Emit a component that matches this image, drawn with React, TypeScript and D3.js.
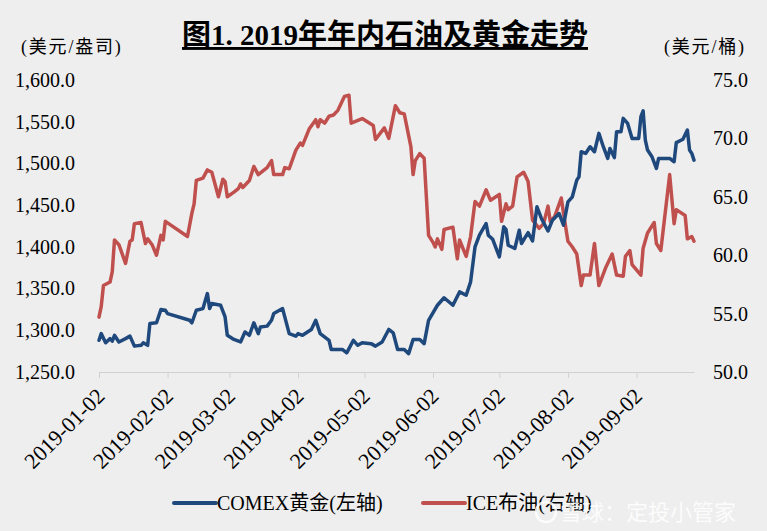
import React, { useRef, useEffect } from 'react';
import * as d3 from 'd3';

// COMEX gold, USD/oz (left axis)
const goldDates = [
  '2019-01-02', '2019-01-03', '2019-01-05', '2019-01-07', '2019-01-08', '2019-01-09', '2019-01-11', '2019-01-14',
  '2019-01-16', '2019-01-18', '2019-01-21', '2019-01-22', '2019-01-24', '2019-01-25', '2019-01-28', '2019-01-30',
  '2019-02-01', '2019-02-02', '2019-02-12', '2019-02-13', '2019-02-15', '2019-02-18', '2019-02-20', '2019-02-21',
  '2019-02-22', '2019-02-26', '2019-02-28', '2019-03-01', '2019-03-04', '2019-03-07', '2019-03-09', '2019-03-11',
  '2019-03-13', '2019-03-15', '2019-03-16', '2019-03-19', '2019-03-21', '2019-03-22', '2019-03-26', '2019-03-29',
  '2019-04-01', '2019-04-02', '2019-04-04', '2019-04-08', '2019-04-10', '2019-04-12', '2019-04-16', '2019-04-17',
  '2019-04-22', '2019-04-24', '2019-04-27', '2019-04-29', '2019-05-01', '2019-05-05', '2019-05-07', '2019-05-10',
  '2019-05-13', '2019-05-15', '2019-05-17', '2019-05-20', '2019-05-22', '2019-05-24', '2019-05-27', '2019-05-29',
  '2019-05-31', '2019-06-04', '2019-06-07', '2019-06-11', '2019-06-14', '2019-06-17', '2019-06-19', '2019-06-21',
  '2019-06-23', '2019-06-26', '2019-06-27', '2019-06-29', '2019-07-02', '2019-07-04', '2019-07-05', '2019-07-06',
  '2019-07-09', '2019-07-11', '2019-07-12', '2019-07-15', '2019-07-17', '2019-07-19', '2019-07-21', '2019-07-24',
  '2019-07-26', '2019-07-29', '2019-07-31', '2019-08-02', '2019-08-04', '2019-08-06', '2019-08-07', '2019-08-08',
  '2019-08-10', '2019-08-12', '2019-08-14', '2019-08-16', '2019-08-18', '2019-08-20', '2019-08-21', '2019-08-23',
  '2019-08-24', '2019-08-26', '2019-08-27', '2019-08-29', '2019-08-31', '2019-09-03', '2019-09-04', '2019-09-05',
  '2019-09-06', '2019-09-07', '2019-09-09', '2019-09-11', '2019-09-12', '2019-09-17', '2019-09-19', '2019-09-20',
  '2019-09-23', '2019-09-25', '2019-09-26', '2019-09-27', '2019-09-28',
];
const goldValues = [
  1288, 1296, 1285, 1290, 1287, 1294, 1286, 1290,
  1293, 1281, 1282, 1285, 1282, 1308, 1309, 1325,
  1324, 1320, 1312, 1309, 1324, 1326, 1344, 1326,
  1332, 1330, 1316, 1294, 1289, 1286, 1298, 1294,
  1309, 1296, 1304, 1305, 1312, 1320, 1326, 1296,
  1293, 1296, 1294, 1301, 1312, 1296, 1288, 1277,
  1277, 1273, 1288, 1282, 1285, 1284, 1281, 1286,
  1301, 1297, 1277, 1277, 1272, 1289, 1289, 1284,
  1312, 1330, 1339, 1330, 1346, 1342, 1358, 1400,
  1414, 1428, 1414, 1409, 1388, 1424, 1421, 1402,
  1398, 1420, 1404, 1417, 1407, 1448, 1434, 1419,
  1432, 1440, 1426, 1454, 1460, 1480, 1484, 1514,
  1512, 1520, 1514, 1536, 1520, 1506, 1518, 1507,
  1538, 1538, 1554, 1548, 1530, 1530, 1556, 1563,
  1528, 1516, 1508, 1494, 1506, 1506, 1502, 1525,
  1529, 1540, 1516, 1512, 1504,
];

// ICE Brent, USD/bbl (right axis)
const brentDates = [
  '2019-01-02', '2019-01-03', '2019-01-04', '2019-01-07', '2019-01-08', '2019-01-09', '2019-01-11', '2019-01-14',
  '2019-01-16', '2019-01-17', '2019-01-18', '2019-01-21', '2019-01-23', '2019-01-24', '2019-01-26', '2019-01-28',
  '2019-01-30', '2019-01-31', '2019-02-01', '2019-02-11', '2019-02-13', '2019-02-14', '2019-02-15', '2019-02-18',
  '2019-02-20', '2019-02-22', '2019-02-25', '2019-02-27', '2019-02-28', '2019-03-01', '2019-03-04', '2019-03-06',
  '2019-03-07', '2019-03-08', '2019-03-11', '2019-03-13', '2019-03-15', '2019-03-19', '2019-03-21', '2019-03-22',
  '2019-03-26', '2019-03-27', '2019-03-29', '2019-04-01', '2019-04-03', '2019-04-04', '2019-04-07', '2019-04-10',
  '2019-04-11', '2019-04-12', '2019-04-14', '2019-04-16', '2019-04-18', '2019-04-20', '2019-04-23', '2019-04-25',
  '2019-04-26', '2019-05-01', '2019-05-06', '2019-05-07', '2019-05-11', '2019-05-13', '2019-05-16', '2019-05-18',
  '2019-05-20', '2019-05-23', '2019-05-24', '2019-05-25', '2019-05-27', '2019-05-29', '2019-05-31', '2019-06-02',
  '2019-06-03', '2019-06-04', '2019-06-06', '2019-06-07', '2019-06-11', '2019-06-13', '2019-06-14', '2019-06-17',
  '2019-06-19', '2019-06-21', '2019-06-23', '2019-06-26', '2019-06-28', '2019-07-02', '2019-07-03', '2019-07-05',
  '2019-07-06', '2019-07-08', '2019-07-10', '2019-07-13', '2019-07-15', '2019-07-17', '2019-07-20', '2019-07-22',
  '2019-07-24', '2019-07-25', '2019-07-27', '2019-07-30', '2019-07-31', '2019-08-02', '2019-08-04', '2019-08-06',
  '2019-08-08', '2019-08-09', '2019-08-12', '2019-08-14', '2019-08-16', '2019-08-19', '2019-08-22', '2019-08-24',
  '2019-08-27', '2019-08-28', '2019-08-30', '2019-08-31', '2019-09-04', '2019-09-05', '2019-09-07', '2019-09-10',
  '2019-09-11', '2019-09-13', '2019-09-17', '2019-09-19', '2019-09-20', '2019-09-24', '2019-09-25', '2019-09-27',
  '2019-09-28',
];
const brentValues = [
  54.7, 55.6, 57.4, 57.7, 58.6, 61.3, 60.9, 59.3,
  61.2, 61.3, 62.7, 62.8, 61.0, 61.4, 60.9, 60.0,
  61.7, 61.3, 62.9, 61.6, 63.6, 64.4, 66.4, 66.6,
  67.3, 67.1, 65.0, 66.5, 66.3, 65.0, 65.4, 65.7,
  66.1, 65.8, 66.4, 67.6, 66.9, 67.5, 68.1, 66.9,
  66.9, 67.5, 67.4, 69.0, 69.6, 69.4, 70.8, 71.6,
  71.0, 71.6, 71.3, 71.9, 72.0, 72.4, 73.6, 73.7,
  71.3, 71.7, 71.1, 69.9, 70.9, 70.0, 72.8, 72.2,
  72.1, 69.3, 66.9, 68.1, 68.7, 68.3, 61.7, 61.1,
  60.7, 61.4, 60.5, 62.2, 62.4, 59.7, 61.3, 59.9,
  61.6, 64.6, 64.2, 65.6, 64.7, 65.2, 62.9, 64.4,
  63.9, 64.2, 66.7, 67.1, 66.3, 63.0, 62.3, 62.7,
  64.2, 62.9, 63.3, 64.9, 63.6, 61.2, 60.7, 60.1,
  57.4, 58.3, 58.3, 61.0, 57.4, 58.9, 60.1, 58.3,
  58.2, 59.9, 60.4, 59.2, 58.3, 60.6, 61.9, 62.8,
  61.0, 60.4, 66.9, 62.7, 63.9, 63.4, 61.4, 61.6,
  61.2,
];

const monthTicks = [
  '2019-01-02', '2019-02-02', '2019-03-02', '2019-04-02', '2019-05-02',
  '2019-06-02', '2019-07-02', '2019-08-02', '2019-09-02',
];
const leftTicks = [1250, 1300, 1350, 1400, 1450, 1500, 1550, 1600];
const rightTicks = [50, 55, 60, 65, 70, 75];

const title = '图1. 2019年年内石油及黄金走势';
const leftUnit = '(美元/盎司)';
const rightUnit = '(美元/桶)';
const goldName = 'COMEX黄金(左轴)';
const brentName = 'ICE布油(右轴)';
const watermark = '雪球：定投小管家';

const FONT = "'Liberation Serif', 'Times New Roman', 'Noto Sans CJK SC', serif";
const BLUE = '#1f497d';
const RED = '#c0504d';

const App = () => {
  const width = 767;
  const height = 531;
  const svgRef = useRef<SVGSVGElement>(null);

  useEffect(() => {
    const svg = d3.select(svgRef.current);
    svg.selectAll('*').remove();

    const left = 99, right = 694, top = 80, bottom = 372;
    const parse = d3.timeParse('%Y-%m-%d');

    svg.append('rect').attr('width', width).attr('height', height).attr('fill', '#eeeeee');

    const x = d3.scaleTime()
      .domain([parse(goldDates[0]) as Date, parse(goldDates[goldDates.length - 1]) as Date])
      .range([left, right]);
    const yL = d3.scaleLinear().domain([1250, 1600]).range([bottom, top]);
    const yR = d3.scaleLinear().domain([50, 75]).range([bottom, top]);

    // x axis, date labels turned 45 degrees
    const xAxis = svg.append('g')
      .attr('transform', `translate(0,${bottom})`)
      .call(d3.axisBottom(x)
        .tickValues(monthTicks.map(d => parse(d) as Date))
        .tickSizeInner(6)
        .tickSizeOuter(0)
        .tickFormat(d3.timeFormat('%Y-%m-%d') as any));
    xAxis.select('.domain').attr('stroke', '#d0d0d0');
    xAxis.selectAll('.tick line').attr('stroke', '#d0d0d0');
    xAxis.selectAll('.tick text')
      .attr('font-family', FONT)
      .attr('font-size', 22)
      .attr('fill', '#000')
      .attr('text-anchor', 'end')
      .attr('transform', 'translate(1,20) rotate(-45)')
      .attr('x', 0)
      .attr('y', 0)
      .attr('dy', '0.35em');

    // left axis
    const yAxisL = svg.append('g')
      .attr('transform', `translate(${left},0)`)
      .call(d3.axisLeft(yL).tickValues(leftTicks).tickSize(0).tickPadding(24).tickFormat(d3.format(',.1f') as any));
    yAxisL.select('.domain').remove();
    yAxisL.selectAll('.tick text').attr('font-family', FONT).attr('font-size', 20).attr('fill', '#000');

    // right axis
    const yAxisR = svg.append('g')
      .attr('transform', `translate(${right},0)`)
      .call(d3.axisRight(yR).tickValues(rightTicks).tickSize(0).tickPadding(19).tickFormat(d3.format('.1f') as any));
    yAxisR.select('.domain').remove();
    yAxisR.selectAll('.tick text').attr('font-family', FONT).attr('font-size', 20).attr('fill', '#000');

    // lines
    const brentLine = d3.line<number>()
      .x((_, i) => x(parse(brentDates[i]) as Date))
      .y(d => yR(d));
    const goldLine = d3.line<number>()
      .x((_, i) => x(parse(goldDates[i]) as Date))
      .y(d => yL(d));

    svg.append('path')
      .attr('d', brentLine(brentValues))
      .attr('fill', 'none')
      .attr('stroke', RED)
      .attr('stroke-width', 3.5)
      .attr('stroke-linejoin', 'round')
      .attr('stroke-linecap', 'round');

    svg.append('path')
      .attr('d', goldLine(goldValues))
      .attr('fill', 'none')
      .attr('stroke', BLUE)
      .attr('stroke-width', 3.5)
      .attr('stroke-linejoin', 'round')
      .attr('stroke-linecap', 'round');

    // title and units
    svg.append('text')
      .attr('x', 385).attr('y', 45)
      .attr('text-anchor', 'middle')
      .attr('font-family', FONT)
      .attr('font-weight', 'bold')
      .attr('font-size', 29)
      .attr('text-decoration', 'underline')
      .text(title);
    svg.append('text')
      .attr('x', 21).attr('y', 53)
      .attr('font-family', FONT).attr('font-size', 18)
      .attr('letter-spacing', 1.8)
      .text(leftUnit);
    svg.append('text')
      .attr('x', 664).attr('y', 53)
      .attr('font-family', FONT).attr('font-size', 18)
      .attr('letter-spacing', 1.8)
      .text(rightUnit);

    // legend
    const legend = [
      { name: goldName, color: BLUE, x: 174 },
      { name: brentName, color: RED, x: 423 },
    ];
    const lg = svg.append('g').attr('transform', 'translate(0,503)');
    legend.forEach(l => {
      lg.append('line')
        .attr('x1', l.x).attr('x2', l.x + 42)
        .attr('stroke', l.color).attr('stroke-width', 4).attr('stroke-linecap', 'round');
      lg.append('text')
        .attr('x', l.x + 43).attr('dy', '0.35em')
        .attr('font-family', FONT).attr('font-size', 20)
        .text(l.name);
    });

    // watermark
    const wm = svg.append('g').attr('opacity', 0.85);
    wm.append('circle').attr('cx', 546).attr('cy', 512).attr('r', 10)
      .attr('fill', 'none').attr('stroke', '#fff').attr('stroke-width', 2.5);
    wm.append('text')
      .attr('x', 560).attr('y', 512).attr('dy', '0.35em')
      .attr('font-family', "'Noto Sans CJK SC', sans-serif")
      .attr('font-size', 22)
      .attr('fill', '#fff')
      .text(watermark);
  }, []);

  return (
    <svg ref={svgRef} width={width} height={height} style={{ position: 'absolute', left: 0, top: 0 }}></svg>
  );
};

export default App;
